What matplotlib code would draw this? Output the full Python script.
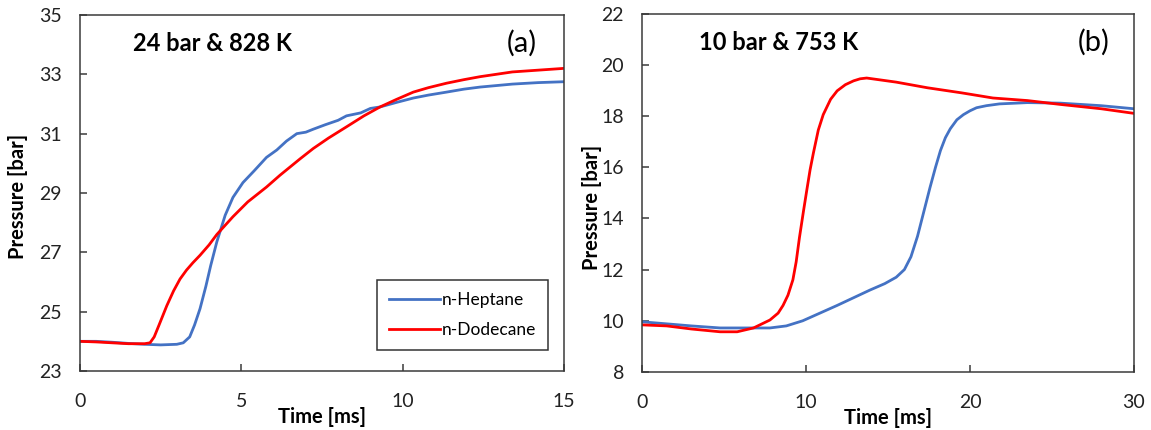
import matplotlib.pyplot as plt

plt.rcParams["font.family"] = ["Lato", "DejaVu Sans"]

# Panel (a): 24 bar & 828 K
t_a_hep = [0, 0.5, 1.0, 1.5, 2.0, 2.5, 3.0, 3.2, 3.4, 3.55, 3.72, 3.9, 4.05, 4.24, 4.5, 4.74,
           5.05, 5.4, 5.78, 6.1, 6.4, 6.72, 7.0, 7.23, 7.6, 8.0, 8.26, 8.7, 9.0, 9.3, 9.8,
           10.33, 10.8, 11.36, 11.9, 12.4, 12.9, 13.4, 14.2, 15.0]
p_a_hep = [24.0, 24.0, 23.97, 23.93, 23.9, 23.88, 23.9, 23.95, 24.15, 24.55, 25.1, 25.85,
           26.55, 27.35, 28.25, 28.85, 29.35, 29.75, 30.2, 30.45, 30.75, 31.0, 31.05, 31.15,
           31.3, 31.45, 31.6, 31.7, 31.85, 31.9, 32.05, 32.2, 32.3, 32.4, 32.5, 32.57, 32.62,
           32.67, 32.72, 32.75]
t_a_dod = [0, 0.5, 1.0, 1.5, 2.0, 2.17, 2.3, 2.45, 2.69, 2.9, 3.1, 3.3, 3.5, 3.72, 4.0, 4.24,
           4.74, 5.2, 5.78, 6.2, 6.82, 7.23, 7.7, 8.26, 8.8, 9.3, 9.8, 10.33, 10.8, 11.36,
           11.9, 12.4, 12.9, 13.4, 14.2, 15.0]
p_a_dod = [24.0, 23.98, 23.95, 23.92, 23.92, 23.95, 24.15, 24.55, 25.2, 25.7, 26.1, 26.4,
           26.65, 26.9, 27.25, 27.6, 28.2, 28.7, 29.2, 29.6, 30.15, 30.5, 30.85, 31.23, 31.6,
           31.9, 32.15, 32.4, 32.55, 32.7, 32.82, 32.92, 33.0, 33.08, 33.14, 33.2]

# Panel (b): 10 bar & 753 K
t_b_hep = [0, 1.7, 3.0, 4.76, 6.0, 7.0, 7.8, 8.8, 9.8, 10.85, 11.9, 12.9, 13.9, 14.8, 15.5,
           16.0, 16.4, 16.8, 17.2, 17.56, 17.9, 18.2, 18.5, 18.8, 19.2, 19.6, 20.0, 20.4,
           21.0, 21.8, 23.5, 25.5, 28.0, 30.0]
p_b_hep = [9.96, 9.87, 9.8, 9.72, 9.72, 9.72, 9.72, 9.8, 10.0, 10.3, 10.6, 10.9, 11.2, 11.45,
           11.7, 12.0, 12.5, 13.3, 14.3, 15.2, 16.0, 16.65, 17.15, 17.5, 17.85, 18.05, 18.2,
           18.32, 18.4, 18.47, 18.52, 18.5, 18.4, 18.28]
t_b_dod = [0, 1.5, 3.0, 4.76, 5.8, 6.8, 7.8, 8.3, 8.6, 8.9, 9.2, 9.4, 9.6, 9.85, 10.06, 10.25,
           10.45, 10.75, 11.05, 11.5, 11.9, 12.4, 12.9, 13.3, 13.7, 15.5, 17.4, 19.5, 21.4,
           23.5, 25.5, 28.0, 30.0]
p_b_dod = [9.84, 9.8, 9.68, 9.57, 9.57, 9.72, 10.03, 10.3, 10.6, 11.0, 11.6, 12.3, 13.25,
           14.3, 15.15, 15.9, 16.55, 17.45, 18.05, 18.65, 18.98, 19.22, 19.37, 19.45, 19.48,
           19.32, 19.1, 18.9, 18.7, 18.6, 18.45, 18.28, 18.1]

series_labels = ["n-Heptane", "n-Dodecane"]
blue = "#4472C4"
red = "#FF0000"
spine_color = "#3a3a3a"

fig = plt.figure(figsize=(11.51, 4.30), dpi=100)
ax1 = fig.add_axes([0.0695, 0.1372, 0.4205, 0.828])
ax2 = fig.add_axes([0.5578, 0.1349, 0.4274, 0.8337])

ax1.plot(t_a_hep, p_a_hep, color=blue, lw=2.0, label=series_labels[0])
ax1.plot(t_a_dod, p_a_dod, color=red, lw=2.0, label=series_labels[1])
ax2.plot(t_b_hep, p_b_hep, color=blue, lw=2.0)
ax2.plot(t_b_dod, p_b_dod, color=red, lw=2.0)

ax1.set_xlim(0, 15)
ax1.set_ylim(23, 35)
ax1.set_xticks([0, 5, 10, 15])
ax1.set_yticks(range(23, 36, 2))
ax2.set_xlim(0, 30)
ax2.set_ylim(8, 22)
ax2.set_xticks([0, 10, 20, 30])
ax2.set_yticks(range(8, 23, 2))

for ax in (ax1, ax2):
    for s in ax.spines.values():
        s.set_color(spine_color)
        s.set_linewidth(1.1)
    ax.tick_params(axis="both", direction="in", length=5, width=1.1,
                   color=spine_color, labelsize=14, labelcolor="#222222")
    ax.tick_params(axis="x", pad=16)
    ax.tick_params(axis="y", pad=13)
    ax.set_xlabel("Time [ms]", fontsize=14.5, fontweight="bold")
    ax.set_ylabel("Pressure [bar]", fontsize=14.5, fontweight="bold")
    ax.xaxis.set_label_coords(0.5, -0.1)

ax1.yaxis.set_label_coords(-0.107, 0.49)
ax2.yaxis.set_label_coords(-0.081, 0.46)

ax1.text(0.11, 0.92, "24 bar & 828 K", transform=ax1.transAxes, fontsize=17,
         fontweight="bold", ha="left", va="center")
ax1.text(0.944, 0.92, "(a)", transform=ax1.transAxes, fontsize=21, ha="right", va="center")
ax2.text(0.115, 0.92, "10 bar & 753 K", transform=ax2.transAxes, fontsize=17,
         fontweight="bold", ha="left", va="center")
ax2.text(0.951, 0.92, "(b)", transform=ax2.transAxes, fontsize=21, ha="right", va="center")

leg = ax1.legend(loc="lower right", bbox_to_anchor=(0.985, 0.035), fontsize=12.5,
                 frameon=True, fancybox=False, handlelength=2.9, handletextpad=0.1,
                 labelspacing=0.8, borderpad=0.7)
leg.get_frame().set_edgecolor("black")
leg.get_frame().set_linewidth(1.1)

plt.savefig("out.png", dpi=100)
plt.close()
